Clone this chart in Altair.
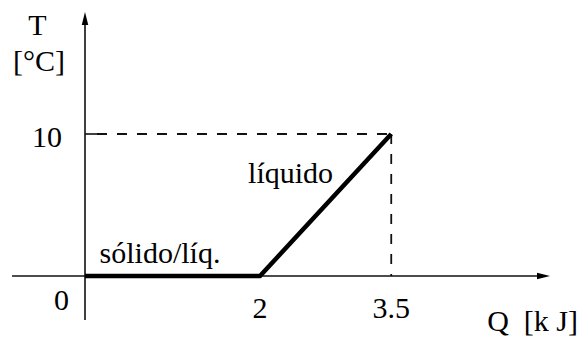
import altair as alt
import pandas as pd

# ---- data ----
q_values = [0, 2, 3.5]          # Q [kJ]
t_values = [0, 0, 10]           # T [°C]
x_tick_values = [2, 3.5]
x_tick_labels = ["2", "3.5"]
origin_label = "0"
y_tick_values = [10]
y_tick_labels = ["10"]
phase_names = ["sólido/líq.", "líquido"]
x_title = "Q\u00a0\u00a0[k\u00a0J]"
y_title_lines = ["T", "[°C]"]

# ---- style / layout ----
FONT = "Liberation Serif"
FS = 30
X_DOMAIN = [-0.88, 5.623]
Y_DOMAIN = [-4.296, 18.873]
X_START, X_END = -0.834, 5.24
Y_START, Y_END = -3.1, 18.13
TICK_LEN = 0.137

xs = alt.Scale(domain=X_DOMAIN, nice=False, zero=False)
ys = alt.Scale(domain=Y_DOMAIN, nice=False, zero=False)


def X(f="x"):
    return alt.X(f"{f}:Q", scale=xs, axis=None)


def Y(f="y"):
    return alt.Y(f"{f}:Q", scale=ys, axis=None)


AX_COLOR = "#111111"

# axes
x_axis = alt.Chart(pd.DataFrame({"x": [X_START], "x2": [X_END], "y": [0]})).mark_rule(
    color=AX_COLOR, strokeWidth=1.6
).encode(x=X(), x2="x2:Q", y=Y())

y_axis = alt.Chart(pd.DataFrame({"x": [0], "y": [Y_START], "y2": [Y_END]})).mark_rule(
    color=AX_COLOR, strokeWidth=1.6
).encode(x=X(), y=Y(), y2="y2:Q")

arrow_right = alt.Chart(pd.DataFrame({"x": [X_END], "y": [0]})).mark_point(
    shape="M-1,-0.5L1,0L-1,0.5Z", filled=True, size=169, color="black", opacity=1
).encode(x=X(), y=Y())

arrow_up = alt.Chart(pd.DataFrame({"x": [0], "y": [Y_END]})).mark_point(
    shape="M-0.5,1L0,-1L0.5,1Z", filled=True, size=169, color="black", opacity=1
).encode(x=X(), y=Y())

# y tick at 10
y_tick = alt.Chart(pd.DataFrame({"x": [0], "x2": [TICK_LEN], "y": y_tick_values})).mark_rule(
    color=AX_COLOR, strokeWidth=1.6
).encode(x=X(), x2="x2:Q", y=Y())

# dashed guides
dash_h = alt.Chart(pd.DataFrame({"x": [TICK_LEN], "x2": [q_values[-1]], "y": [t_values[-1]]})).mark_rule(
    color=AX_COLOR, strokeWidth=1.8, strokeDash=[10, 10]
).encode(x=X(), x2="x2:Q", y=Y())

dash_v = alt.Chart(pd.DataFrame({"x": [q_values[-1]], "y": [t_values[-1]], "y2": [0]})).mark_rule(
    color=AX_COLOR, strokeWidth=1.8, strokeDash=[10, 10]
).encode(x=X(), y=Y(), y2="y2:Q")

# main curve
curve_df = pd.DataFrame({"x": q_values, "y": t_values, "i": range(len(q_values))})
curve = alt.Chart(curve_df).mark_line(
    color="black", strokeWidth=4.5, strokeJoin="miter"
).encode(x=X(), y=Y(), order="i:Q")

txt = dict(font=FONT, fontSize=FS, color="black")

# tick labels
x_labels = alt.Chart(pd.DataFrame({"x": x_tick_values, "y": [0] * len(x_tick_values), "t": x_tick_labels})).mark_text(
    align="center", baseline="alphabetic", dy=42, **txt
).encode(x=X(), y=Y(), text="t:N")

o_label = alt.Chart(pd.DataFrame({"x": [0], "y": [0], "t": [origin_label]})).mark_text(
    align="center", baseline="alphabetic", dx=-23.5, dy=34, **txt
).encode(x=X(), y=Y(), text="t:N")

y_labels = alt.Chart(pd.DataFrame({"x": [0] * len(y_tick_values), "y": y_tick_values, "t": y_tick_labels})).mark_text(
    align="right", baseline="alphabetic", dx=-23, dy=13, **txt
).encode(x=X(), y=Y(), text="t:N")

# axis titles
t_title = alt.Chart(pd.DataFrame({"x": [0], "y": [Y_END], "t": [y_title_lines[0]]})).mark_text(
    align="center", baseline="alphabetic", dx=-47.5, dy=16.5, **txt
).encode(x=X(), y=Y(), text="t:N")

unit_title = alt.Chart(pd.DataFrame({"x": [0], "y": [Y_END], "t": [y_title_lines[1]]})).mark_text(
    align="center", baseline="alphabetic", dx=-46, dy=52.5, **txt
).encode(x=X(), y=Y(), text="t:N")

q_title = alt.Chart(pd.DataFrame({"x": [X_END], "y": [0], "t": [x_title]})).mark_text(
    align="right", baseline="alphabetic", dx=34.5, dy=55, **txt
).encode(x=X(), y=Y(), text="t:N")

# phase labels, anchored to the midpoints of the segments
mid1 = ((q_values[0] + q_values[1]) / 2, (t_values[0] + t_values[1]) / 2)
mid2 = ((q_values[1] + q_values[2]) / 2, (t_values[1] + t_values[2]) / 2)

solid_label = alt.Chart(pd.DataFrame({"x": [mid1[0]], "y": [mid1[1]], "t": [phase_names[0]]})).mark_text(
    align="center", baseline="alphabetic", dx=-12.5, dy=-13, **txt
).encode(x=X(), y=Y(), text="t:N")

liquid_label = alt.Chart(pd.DataFrame({"x": [mid2[0]], "y": [mid2[1]], "t": [phase_names[1]]})).mark_text(
    align="center", baseline="alphabetic", dx=-35, dy=-22, **txt
).encode(x=X(), y=Y(), text="t:N")

chart = alt.layer(
    dash_h, dash_v, x_axis, y_axis, y_tick, arrow_right, arrow_up, curve,
    x_labels, o_label, y_labels, t_title, unit_title, q_title, solid_label, liquid_label,
).properties(
    width=569, height=329, padding=0, autosize="none", background="white"
).configure_view(stroke=None)

chart.save("out.html", embed_options={"renderer": "svg", "actions": False})
